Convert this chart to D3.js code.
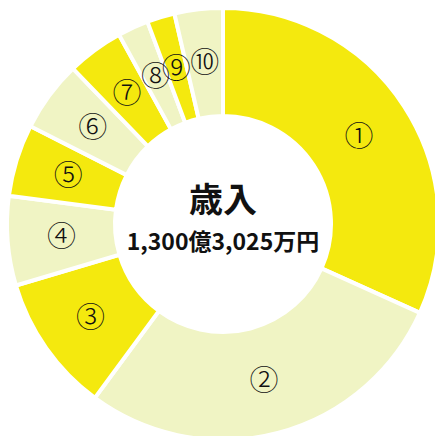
<!DOCTYPE html>
<html>
<head>
<meta charset="utf-8">
<script src="https://cdn.jsdelivr.net/npm/d3@7"></script>
<style>
  body { margin: 0; background: #fff; }
  svg { display: block; }
</style>
</head>
<body>
<svg></svg>
<script>
const WIDTH = 435;
const HEIGHT = 436;
const CX = 223;
const CY = 224;
const OUTER_R = 216;
const INNER_R = 108;
const LABEL_R = 162;

// 歳入の内訳（億円、図から読み取った概算値）
const labels = ["①", "②", "③", "④", "⑤", "⑥", "⑦", "⑧", "⑨", "⑩"];
const values = [413, 369, 134, 87, 70, 69, 55, 30, 27, 47];
const titleText = "歳入";
const totalText = "1,300億3,025万円";

const colors = ["#f4e90e", "#f0f4c4"];

const svg = d3.select("svg").attr("width", WIDTH).attr("height", HEIGHT);
const g = svg.append("g").attr("transform", `translate(${CX},${CY})`);

const pie = d3.pie().sort(null).value(d => d.value);
const arc = d3.arc().innerRadius(INNER_R).outerRadius(OUTER_R);
const labelArc = d3.arc().innerRadius(LABEL_R).outerRadius(LABEL_R);

const arcs = pie(labels.map((l, i) => ({ label: l, value: values[i] })));

g.selectAll("path")
  .data(arcs)
  .enter()
  .append("path")
  .attr("d", arc)
  .attr("fill", (d, i) => colors[i % 2])
  .attr("stroke", "#fff")
  .attr("stroke-width", 4);

g.selectAll("text.label")
  .data(arcs)
  .enter()
  .append("text")
  .attr("class", "label")
  .attr("transform", d => `translate(${labelArc.centroid(d)})`)
  .attr("text-anchor", "middle")
  .attr("dy", "0.36em")
  .attr("font-family", "'Noto Sans CJK JP', sans-serif")
  .attr("font-weight", 300)
  .attr("font-size", 29)
  .attr("fill", "#111")
  .text(d => d.data.label);

// center
g.append("text")
  .attr("y", -12)
  .attr("text-anchor", "middle")
  .attr("font-family", "'Noto Sans CJK JP', sans-serif")
  .attr("font-weight", "bold")
  .attr("font-size", 34)
  .attr("fill", "#111")
  .text(titleText);

g.append("text")
  .attr("y", 26)
  .attr("text-anchor", "middle")
  .attr("font-family", "'Noto Sans CJK JP', sans-serif")
  .attr("font-weight", "bold")
  .attr("font-size", 23)
  .attr("fill", "#111")
  .text(totalText);
</script>
</body>
</html>
